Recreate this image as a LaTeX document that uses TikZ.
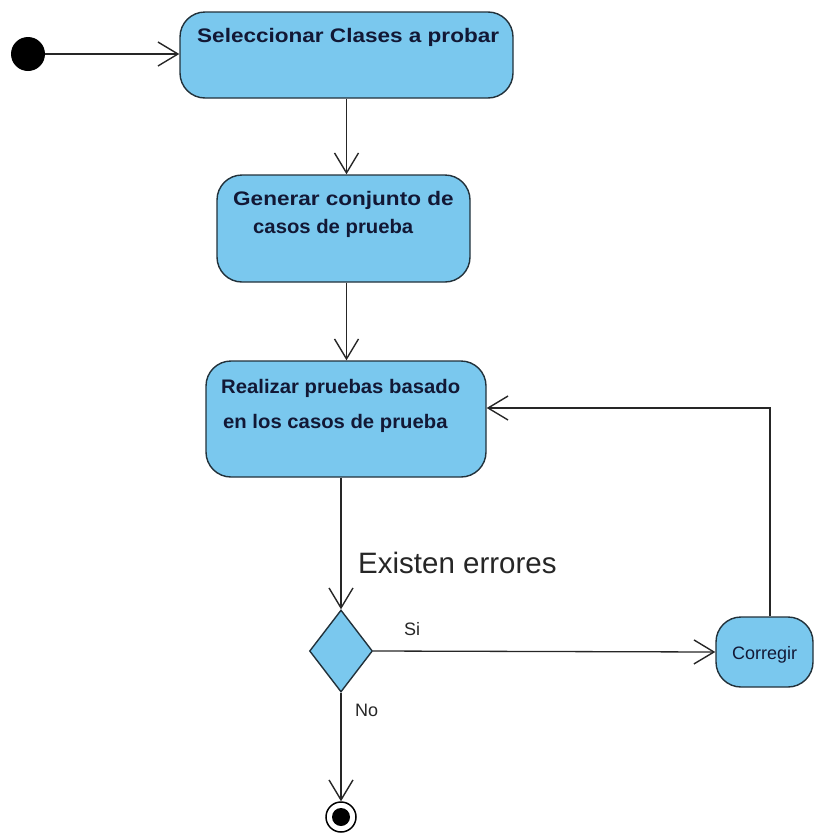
\documentclass[tikz,border=0pt]{standalone}
\usepackage{fontspec}
\usepackage{graphicx}
\setmainfont{Liberation Sans}
\newfontfamily\actfont{Liberation Sans}[FakeStretch=1.15]
\usetikzlibrary{arrows.meta,shapes.geometric}
\definecolor{actfill}{HTML}{7AC8EE}
\definecolor{actline}{HTML}{22313A}
\definecolor{acttext}{HTML}{121835}
\newcommand{\narrowtxt}[1]{\scalebox{0.9}[1]{#1}}
\tikzset{
  activity/.style={draw=actline, fill=actfill, line width=1.4pt, rounded corners=25pt, inner sep=0pt},
  acttxt/.style={anchor=base west, inner sep=0pt, text=acttext, font=\actfont\bfseries\fontsize{19.6}{23}\selectfont},
  lbl/.style={anchor=base west, inner sep=0pt, text=black!85, font=\fontsize{18}{21}\selectfont},
  flow/.style={draw=black!85, line width=1.3pt, -{Straight Barb[length=20pt,width=24pt,line width=1.4pt]}},
}
\begin{document}
\begin{tikzpicture}[x=1pt,y=-1pt]
\useasboundingbox (0,0) rectangle (814,833);

% start and end states
\node[circle, fill=black, minimum size=34pt, inner sep=0pt] (start) at (28,54) {};
\node[circle, draw=black, line width=1.5pt, minimum size=30pt, inner sep=0pt] (stop) at (341,817) {};
\fill[black] (stop.center) circle (9pt);

% activities
\node[activity, minimum width=333pt, minimum height=86pt] (sel) at (346.5,55) {};
\node[activity, minimum width=253pt, minimum height=107pt] (gen) at (343.5,228.5) {};
\node[activity, minimum width=280pt, minimum height=116pt] (run) at (346,419) {};
\node[activity, minimum width=97pt, minimum height=70pt] (fix) at (764.5,652) {};

% decision
\node[diamond, draw=actline, fill=actfill, line width=1.4pt, inner sep=0pt,
      minimum width=63pt, minimum height=82pt] (dec) at (341,651) {};

% activity texts
\node[acttxt] (t1) at (197,42) {Seleccionar Clases a probar};
\node[acttxt] (t2a) at (233,205) {Generar conjunto de};
\node[acttxt] (t2b) at (253,233) {\narrowtxt{casos de prueba}};
\node[acttxt] (t3a) at (221,393) {\narrowtxt{Realizar pruebas basado}};
\node[acttxt] (t3b) at (223,428) {\narrowtxt{en los casos de prueba}};
\node[lbl, text=acttext] (t4) at (732,659) {Corregir};

% guard labels
\node[lbl, font=\fontsize{29.5}{33}\selectfont] (cond) at (358,573) {Existen errores};
\node[lbl] (yes) at (404,635) {Si};
\node[lbl] (no) at (355,716) {No};

% control flow
\draw[flow] (start) -- (start -| sel.west);
\draw[flow] (sel.south) -- (sel.south |- gen.north);
\draw[flow] (sel.south |- gen.south) -- (sel.south |- run.north);
\draw[flow] (dec.north |- run.south) -- (dec.north);
\draw[flow] (dec.east) -- (fix.west);
\draw[flow] (dec.south) -- (stop.north);
\draw[flow] ([xshift=5.5pt]fix.north) |- ([yshift=11pt]run.east);
\end{tikzpicture}
\end{document}
